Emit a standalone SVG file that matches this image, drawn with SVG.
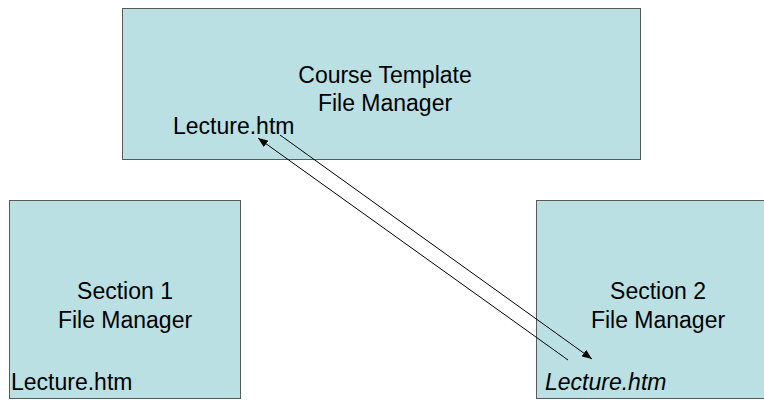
<svg xmlns="http://www.w3.org/2000/svg" width="764" height="400" viewBox="0 0 764 400">
<defs>
<style>
.box{fill:#bbe0e3;stroke:#5a5a5a;stroke-width:1}
text{font-family:"Liberation Sans",Arial,sans-serif;font-size:23px;fill:#000}
.c{text-anchor:middle}
.ln{stroke:#000;stroke-width:1;fill:none}
</style>
<marker id="ah" viewBox="0 0 10 8" refX="10" refY="4" markerWidth="10" markerHeight="8" markerUnits="userSpaceOnUse" orient="auto">
<path d="M0,0 L10,4 L0,8 z" fill="#000"/>
</marker>
</defs>
<g id="course-template">
<rect class="box" x="122.5" y="8.5" width="518" height="151"/>
<text class="c" x="385" y="83" font-size="24">Course Template</text>
<text class="c" x="385" y="111" font-size="23.5">File Manager</text>
<text x="173" y="134">Lecture.htm</text>
</g>
<g id="section1">
<rect class="box" x="9.5" y="200.5" width="231" height="198"/>
<text class="c" x="125" y="299">Section 1</text>
<text class="c" x="125" y="328">File Manager</text>
<text x="11" y="390">Lecture.htm</text>
</g>
<g id="section2">
<rect class="box" x="536.5" y="200.5" width="250" height="198"/>
<text class="c" x="658" y="299">Section 2</text>
<text class="c" x="658" y="328">File Manager</text>
<text x="545" y="390" font-style="italic">Lecture.htm</text>
</g>
<g id="connectors">
<line class="ln" x1="568" y1="360" x2="258" y2="138" marker-end="url(#ah)"/>
<line class="ln" x1="280" y1="135" x2="592" y2="359" marker-end="url(#ah)"/>
</g>
</svg>
